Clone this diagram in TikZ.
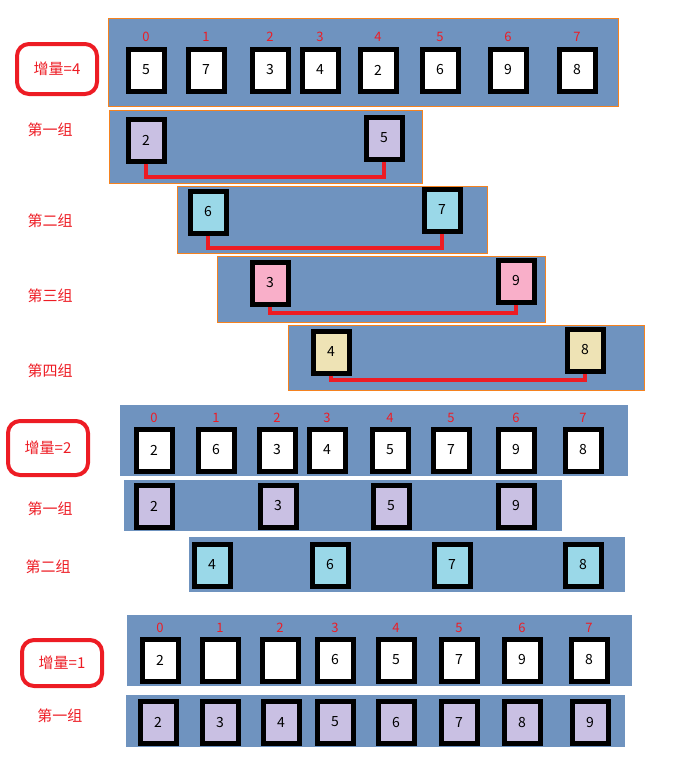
\documentclass[tikz,border=0pt]{standalone}
\usepackage{fontspec}
\setmainfont{Noto Sans CJK SC}
\usetikzlibrary{calc}
\definecolor{panelblue}{HTML}{6F93BF}
\definecolor{hotred}{HTML}{ED1C24}
\definecolor{edgeorange}{HTML}{F5821F}
\definecolor{lav}{HTML}{C9C0E3}
\definecolor{sky}{HTML}{9AD8E8}
\definecolor{rose}{HTML}{F9AFC9}
\definecolor{sand}{HTML}{EEE3B5}
\tikzset{
  panel/.style={fill=panelblue},
  opanel/.style={fill=panelblue, draw=edgeorange, line width=1pt},
  cell/.style={draw=black, line width=5pt, fill=#1, minimum width=36pt, minimum height=42pt, inner sep=0pt, font=\fontsize{14}{14}\selectfont},
  cell/.default=white,
  idx/.style={text=hotred, font=\fontsize{13}{13}\selectfont},
  grp/.style={text=hotred, font=\fontsize{15}{15}\selectfont},
  gap/.style={draw=hotred, line width=4pt, rounded corners=12pt, minimum width=80pt, minimum height=50pt, text=hotred, font=\fontsize{15}{15}\selectfont},
  link/.style={draw=hotred, line width=4pt}
}
\begin{document}
\begin{tikzpicture}[x=1pt,y=-1pt]
\useasboundingbox (0,0) rectangle (689,769);
% increment 4
\fill[opanel] (108,18) rectangle (618,106);
\node[gap] (inc4) at (57,69) {增量=4};
\foreach \v/\x/\i in {5/146/0,7/206/1,3/270/2,4/320/3,2/378/4,6/440/5,9/508/6,8/577/7} {
  \node[cell] (a\i) at (\x,70) {\v};
  \node[idx] at (\x,37) {\i};
}
\fill[opanel] (109,110) rectangle (422,183);
\node[grp] (g41) at (50,130) {第一组};
\node[cell=lav] (p1) at (146,140) {2};
\node[cell=lav] (q1) at (384,138) {5};
\draw[link] (p1.south) -- ($(p1.south |- 0,177)$) -| (q1.south);
\fill[opanel] (177,186) rectangle (487,253);
\node[grp] (g42) at (50,221) {第二组};
\node[cell=sky] (p2) at (208,212) {6};
\node[cell=sky] (q2) at (442,210) {7};
\draw[link] (p2.south) -- ($(p2.south |- 0,248)$) -| (q2.south);
\fill[opanel] (217,256) rectangle (545,322);
\node[grp] (g43) at (50,296) {第三组};
\node[cell=rose] (p3) at (270,283) {3};
\node[cell=rose] (q3) at (516,281) {9};
\draw[link] (p3.south) -- ($(p3.south |- 0,313)$) -| (q3.south);
\fill[opanel] (288,325) rectangle (644,390);
\node[grp] (g44) at (50,371) {第四组};
\node[cell=sand] (p4) at (331,352) {4};
\node[cell=sand] (q4) at (585,350) {8};
\draw[link] (p4.south) -- ($(p4.south |- 0,380)$) -| (q4.south);
% increment 2
\fill[panel] (120,405) rectangle (628,476);
\node[gap, minimum height=54pt] (inc2) at (48,448) {增量=2};
\foreach \v/\x/\i in {2/154/0,6/216/1,3/277/2,4/327/3,5/390/4,7/451/5,9/516/6,8/583/7} {
  \node[cell] (b\i) at (\x,450) {\v};
  \node[idx] at (\x,418) {\i};
}
\fill[panel] (124,480) rectangle (562,531);
\node[grp] (g21) at (50,509) {第一组};
\foreach \v/\x in {2/154,3/278,5/391,9/516}
  \node[cell=lav] at (\x,506) {\v};
\fill[panel] (189,537) rectangle (625,592);
\node[grp] (g22) at (48,567) {第二组};
\foreach \v/\x in {4/212,6/330,7/452,8/583}
  \node[cell=sky] at (\x,565) {\v};
% increment 1
\fill[panel] (127,615) rectangle (632,686);
\node[gap, minimum height=46pt] (inc1) at (62,663) {增量=1};
\foreach \v/\x/\i in {2/160/0,/220/1,/280/2,6/335/3,5/396/4,7/459/5,9/522/6,8/589/7} {
  \node[cell] (c\i) at (\x,660) {\v};
  \node[idx] at (\x,628) {\i};
}
\fill[panel] (126,695) rectangle (625,747);
\node[grp] (g11) at (60,716) {第一组};
\foreach \v/\x in {2/158,3/220,4/281,5/335,6/396,7/459,8/522,9/590}
  \node[cell=lav] at (\x,722) {\v};
\end{tikzpicture}
\end{document}
